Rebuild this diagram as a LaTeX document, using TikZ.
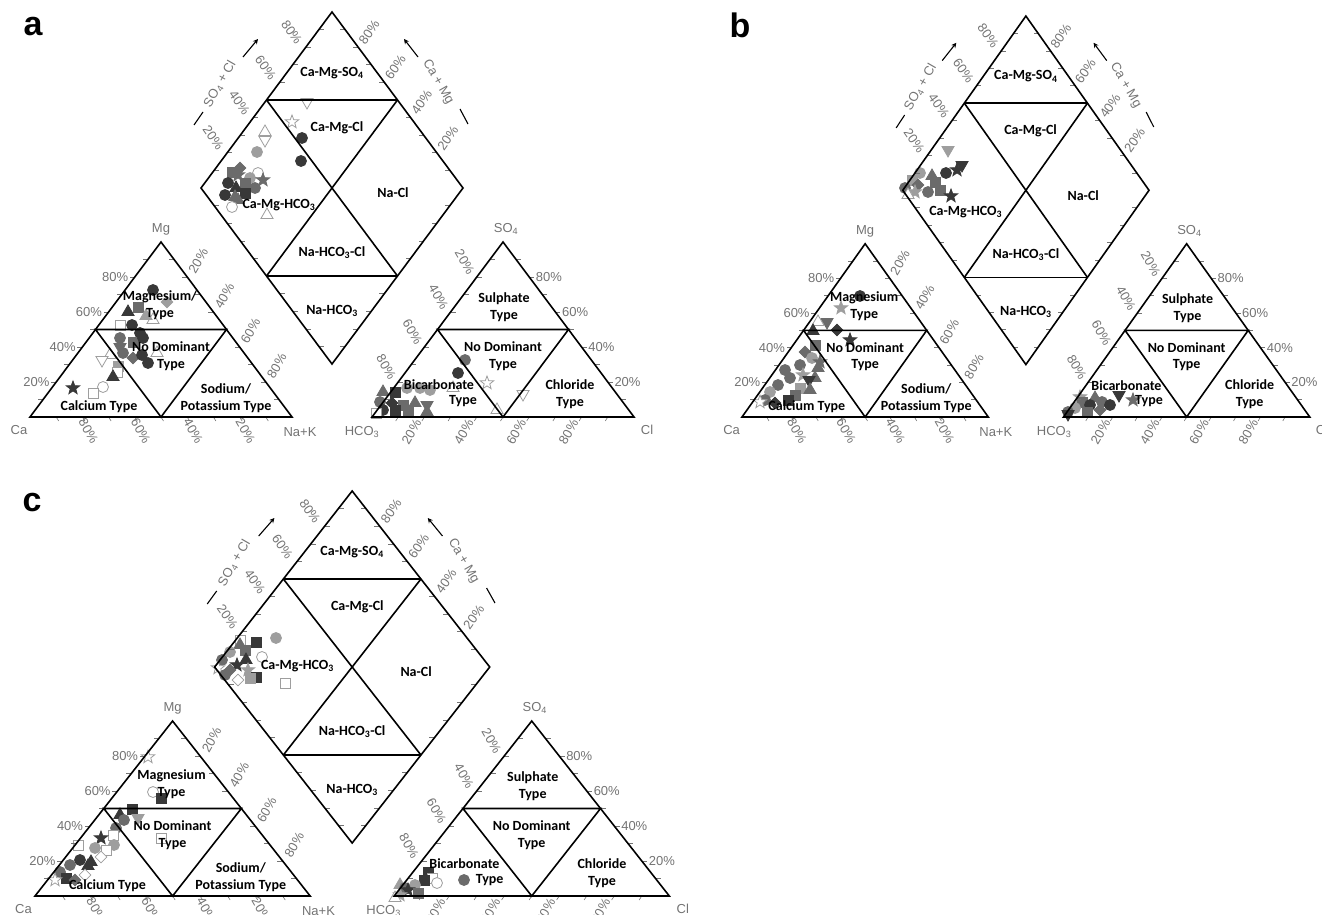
\documentclass[tikz,border=0pt]{standalone}
\usepackage{fontspec}
\setmainfont{Liberation Sans}
\newfontfamily\zonefont{Carlito}
\usetikzlibrary{arrows.meta, calc, shapes.geometric}
\definecolor{mDark}{gray}{0.22}
\definecolor{mMid}{gray}{0.42}
\definecolor{mLight}{gray}{0.62}
\definecolor{mText}{gray}{0.45}

% one Piper frame: #1 name, #2 shift, #3 xscale, #4 yscale, #5 Mg field text,
% #6 x offset of the cation no-dominant text, #7 position of Ca-Mg-HCO3
\newcommand{\piperframe}[7]{%
  \begin{scope}[shift={#2}, xscale=#3, yscale=-#4]
    \coordinate (#1A) at (0,0);     \coordinate (#1B) at (262,0);  \coordinate (#1C) at (131,175);
    \coordinate (#1D) at (342,0);   \coordinate (#1E) at (604,0);  \coordinate (#1F) at (473,175);
    \coordinate (#1P) at (171,229); \coordinate (#1Q) at (433,229);
    \coordinate (#1T) at (302,405); \coordinate (#1U) at (302,53);
    % ticks
    \foreach \f in {0.1,0.2,...,0.9} {
      \draw[tick] ($(#1A)!\f!(#1C)$) -- +(-5,0);
      \draw[tick] ($(#1C)!\f!(#1B)$) -- +(-5,0);
      \draw[tick] ($(#1A)!\f!(#1B)$) -- +(2.5,-4);
      \draw[tick] ($(#1F)!\f!(#1D)$) -- +(5,0);
      \draw[tick] ($(#1F)!\f!(#1E)$) -- +(5,0);
      \draw[tick] ($(#1D)!\f!(#1E)$) -- +(-2.5,-4);
      \draw[tick] ($(#1T)!\f!(#1P)$) -- +(5,0);
      \draw[tick] ($(#1T)!\f!(#1Q)$) -- +(-5,0);
      \draw[tick] ($(#1U)!\f!(#1P)$) -- +(5,0);
      \draw[tick] ($(#1U)!\f!(#1Q)$) -- +(-5,0);
    }
    % outlines
    \draw[frame] (#1A) -- (#1B) -- (#1C) -- cycle;
    \draw[frame] ($(#1A)!0.5!(#1C)$) -- ($(#1B)!0.5!(#1C)$) -- ($(#1A)!0.5!(#1B)$) -- cycle;
    \draw[frame] (#1D) -- (#1E) -- (#1F) -- cycle;
    \draw[frame] ($(#1D)!0.5!(#1F)$) -- ($(#1E)!0.5!(#1F)$) -- ($(#1D)!0.5!(#1E)$) -- cycle;
    \draw[frame] (#1P) -- (#1T) -- (#1Q) -- (#1U) -- cycle;
    \draw[frame] ($(#1P)!0.5!(#1T)$) -- ($(#1Q)!0.5!(#1T)$);
    \draw[frame] ($(#1P)!0.5!(#1U)$) -- ($(#1Q)!0.5!(#1U)$);
    \draw[frame] ($(#1P)!0.5!(#1T)$) -- ($(#1Q)!0.5!(#1U)$);
    \draw[frame] ($(#1Q)!0.5!(#1T)$) -- ($(#1P)!0.5!(#1U)$);
    % percentages
    \foreach \k in {20,40,60,80} {
      \node[pct, anchor=east] (#1-mg\k) at ($(#1A)!\k/100!(#1C)+(-6,0)$) {\k\%};
      \node[pct, rotate=60] (#1-na\k) at ($(#1C)!\k/100!(#1B)+(11,16)$) {\k\%};
      \node[pct, rotate=-60] (#1-ca\k) at ($(#1A)!1-\k/100!(#1B)+(6,-14)$) {\k\%};
      \node[pct, rotate=-60] (#1-so\k) at ($(#1F)!\k/100!(#1D)+(-12,15)$) {\k\%};
      \node[pct, anchor=west] (#1-cl\k) at ($(#1E)!\k/100!(#1F)+(6,0)$) {\k\%};
      \node[pct, rotate=60] (#1-hc\k) at ($(#1D)!\k/100!(#1E)+(-13,-15)$) {\k\%};
      \node[pct, rotate=-55] (#1-dl\k) at ($(#1T)!1-\k/100!(#1P)+(-14,15)$) {\k\%};
      \node[pct, rotate=55] (#1-dr\k) at ($(#1T)!1-\k/100!(#1Q)+(11,15)$) {\k\%};
    }
    % corners
    \node[pct] (#1-Ca) at (-11,-13) {Ca};
    \node[pct] (#1-NaK) at (270,-15) {Na+K};
    \node[pct] (#1-Mg) at (131,188) {Mg};
    \node[pct] (#1-HCO) at (332,-15) {HCO\textsubscript{3}};
    \node[pct] (#1-Cl) at (617,-13) {Cl};
    \node[pct] (#1-SO) at (476,188) {SO\textsubscript{4}};
    % diamond axes
    \node[pct, rotate=60] (#1-socl) at (190,333) {SO\textsubscript{4} + Cl};
    \node[pct, rotate=-60] (#1-camg) at (408,335) {Ca + Mg};
    \coordinate (#1-s1) at (213,360); \coordinate (#1-s2) at (228,378);
    \coordinate (#1-s3) at (164,292); \coordinate (#1-s4) at (173,305);
    \coordinate (#1-c1) at (388,360); \coordinate (#1-c2) at (374,378);
    \coordinate (#1-c3) at (430,308); \coordinate (#1-c4) at (438,293);
    \draw[axarr] (#1-s1) -- (#1-s2);
    \draw[axbar] (#1-s3) -- (#1-s4);
    \draw[axarr] (#1-c1) -- (#1-c2);
    \draw[axbar] (#1-c3) -- (#1-c4);
    % fields
    \node[zone] (#1-z1) at (302,344) {Ca-Mg-SO\textsubscript{4}};
    \node[zone] (#1-z2) at (307,289) {Ca-Mg-Cl};
    \node[zone] (#1-z3) at (363,224) {Na-Cl};
    \node[zone] (#1-z4) at #7 {Ca-Mg-HCO\textsubscript{3}};
    \node[zone] (#1-z5) at (302,164) {Na-HCO\textsubscript{3}-Cl};
    \node[zone] (#1-z6) at (302,106) {Na-HCO\textsubscript{3}};
    \node[zone] (#1-z7) at (130,112) {#5\\Type};
    \node[zone] (#1-z8) at (131+#6,61) {No Dominant\\Type};
    \node[zone] (#1-z9) at (69,10) {Calcium Type};
    \node[zone] (#1-z10) at (196,19) {Sodium/\\Potassium Type};
    \node[zone] (#1-z11) at (474,110) {Sulphate\\Type};
    \node[zone] (#1-z12) at (473,61) {No Dominant\\Type};
    \node[zone] (#1-z13) at (409,32) {Bicarbonate};
    \node[zone] (#1-z14) at (433,16) {Type};
    \node[zone] (#1-z15) at (540,23) {Chloride\\Type};
  \end{scope}
}

\begin{document}
\begin{tikzpicture}[x=1pt, y=-1pt,
    frame/.style={line width=1.6pt, line join=miter},
    tick/.style={line width=0.6pt, mText},
    pct/.style={font=\fontsize{13}{13}\selectfont, text=mText, inner sep=0.5pt},
    zone/.style={font=\zonefont\bfseries\fontsize{14}{16.5}\selectfont, align=center, inner sep=0pt},
    axarr/.style={-{Stealth[length=5pt, width=5pt]}, line width=1.1pt},
    axbar/.style={line width=1.1pt},
    panel/.style={font=\bfseries\fontsize{34}{34}\selectfont, inner sep=0pt},
    mk/.style={inner sep=0pt, line width=0.8pt},
    circ/.style={mk, circle, minimum size=11pt},
    sqr/.style={mk, rectangle, minimum size=10pt},
    tri/.style={mk, regular polygon, regular polygon sides=3, minimum size=14pt},
    itri/.style={tri, shape border rotate=180},
    strs/.style={mk, star, star points=5, star point ratio=2.4, minimum size=14pt},
    dmd/.style={mk, diamond, minimum size=12pt},
    dk/.style={fill=mDark, draw=mDark},
    md/.style={fill=mMid, draw=mMid},
    lt/.style={fill=mLight, draw=mLight},
    op/.style={fill=white, draw=mLight}]
  \useasboundingbox (0,0) rectangle (1322,915);

  % samples, panel a
  \foreach \c/\s/\x/\y [count=\n] in {
      dk/circ/153/290, md/sqr/138/307, lt/dmd/167/302, dk/tri/128/312, op/tri/153/320,
      lt/tri/146/316, op/sqr/120/325, dk/circ/132/325, dk/circ/140/333, md/circ/120/338,
      md/sqr/133/342, dk/circ/143/338, md/itri/120/347, op/tri/110/355, op/itri/102/360,
      md/circ/123/353, md/dmd/133/358, dk/circ/142/355, dk/circ/148/363, op/tri/157/353,
      lt/sqr/118/366, op/sqr/117/372, dk/tri/113/377, op/circ/103/387, op/sqr/93/393,
      dk/strs/73/388,
      op/strs/292/122, dk/circ/302/138, op/tri/265/132, op/itri/265/140, lt/circ/257/152,
      dk/circ/301/161, op/itri/307/102, md/dmd/240/168, md/sqr/232/172, md/strs/238/175,
      op/circ/258/173, lt/circ/250/178, md/strs/263/180, dk/circ/228/183, md/sqr/245/183,
      dk/tri/236/188, md/circ/255/188, dk/circ/225/195, dk/sqr/245/193, md/tri/235/197,
      md/tri/238/200, op/circ/232/207, op/tri/267/215,
      md/circ/465/360, dk/circ/458/373, op/strs/487/383, op/tri/453/388, op/itri/523/394,
      op/tri/497/410, md/tri/383/392, dk/sqr/395/392, lt/circ/407/388, lt/circ/420/388,
      lt/circ/430/390, md/circ/380/402, dk/dmd/392/403, md/sqr/403/405, md/tri/415/403,
      md/itri/427/405, md/tri/427/412, dk/circ/383/410, dk/sqr/395/410, md/sqr/408/410,
      op/sqr/376/413}
    \node[\s, \c] (am\n) at (\x,\y) {};

  % samples, panel b
  \foreach \c/\s/\x/\y [count=\n] in {
      lt/itri/948/150, dk/itri/962/165, dk/strs/957/170, lt/circ/920/173, md/tri/932/176,
      lt/sqr/912/180, md/sqr/935/182, dk/circ/946/173, md/dmd/918/185, md/circ/905/188,
      md/sqr/940/190, md/circ/928/192, lt/strs/915/192, op/tri/908/195, dk/strs/951/196,
      dk/circ/860/296, lt/strs/841/308, md/itri/827/322, op/tri/818/322, dk/dmd/837/330,
      dk/tri/813/331, dk/strs/850/340, md/sqr/815/345, md/dmd/805/352, lt/circ/812/358,
      md/strs/820/362, md/circ/800/365, md/tri/818/368, md/circ/785/370, lt/strs/803/375,
      md/circ/790/378, md/tri/815/378, dk/itri/809/380, md/circ/778/385, lt/sqr/800/388,
      md/tri/810/390, lt/circ/770/392, md/sqr/795/395, dk/sqr/788/400, md/circ/765/400,
      dk/dmd/775/403, op/strs/760/402,
      dk/itri/1119/395, md/strs/1133/400, lt/strs/1080/397, md/tri/1095/398, md/sqr/1082/402,
      md/circ/1102/402, dk/circ/1090/405, lt/circ/1075/408, dk/circ/1110/405, md/dmd/1100/410,
      md/circ/1068/412, md/sqr/1087/412, dk/itri/1068/414}
    \node[\s, \c] (bm\n) at (\x,\y) {};

  % samples, panel c
  \foreach \c/\s/\x/\y [count=\n] in {
      lt/circ/276/638, op/sqr/240/640, dk/sqr/256/642, md/tri/240/645, md/sqr/245/650,
      lt/circ/230/652, op/circ/262/657, dk/tri/246/660, md/circ/222/660, dk/strs/237/665,
      op/strs/218/668, md/dmd/230/670, lt/strs/248/670, md/circ/225/675, dk/sqr/256/677,
      lt/sqr/250/678, op/dmd/238/680, op/sqr/285/683,
      op/strs/148/757, op/circ/153/792, dk/sqr/161/798, dk/sqr/132/809, dk/tri/120/815,
      lt/itri/138/818, md/circ/124/820, md/circ/116/828, op/sqr/113/835, dk/strs/101/838,
      op/sqr/161/838, lt/circ/114/845, op/sqr/78/845, lt/circ/95/848, op/sqr/106/850,
      op/dmd/101/857, dk/circ/80/860, dk/tri/91/862, md/circ/70/865, dk/tri/88/866,
      md/circ/60/872, op/dmd/85/875, dk/sqr/66/878, md/dmd/75/880, op/strs/55/880,
      dk/sqr/428/872, op/sqr/432/878, dk/sqr/424/880, md/circ/464/880, op/circ/437/883,
      lt/tri/400/885, lt/circ/415/885, md/circ/405/888, dk/strs/408/890, md/sqr/418/893,
      lt/strs/400/895, op/tri/395/898}
    \node[\s, \c] (cm\n) at (\x,\y) {};

  \piperframe{a}{(30,417)}{1}{1}{Magnesium/}{10}{(249,212)}
  \piperframe{b}{(742,417)}{0.94}{0.99}{Magnesium}{0}{(238,207)}
  \piperframe{c}{(35,896)}{1.05}{1}{Magnesium}{0}{(250,230)}

  \node[panel] (pa) at (33,27) {a};
  \node[panel] (pb) at (740,25) {b};
  \node[panel] (pc) at (32,503) {c};
\end{tikzpicture}
\end{document}
